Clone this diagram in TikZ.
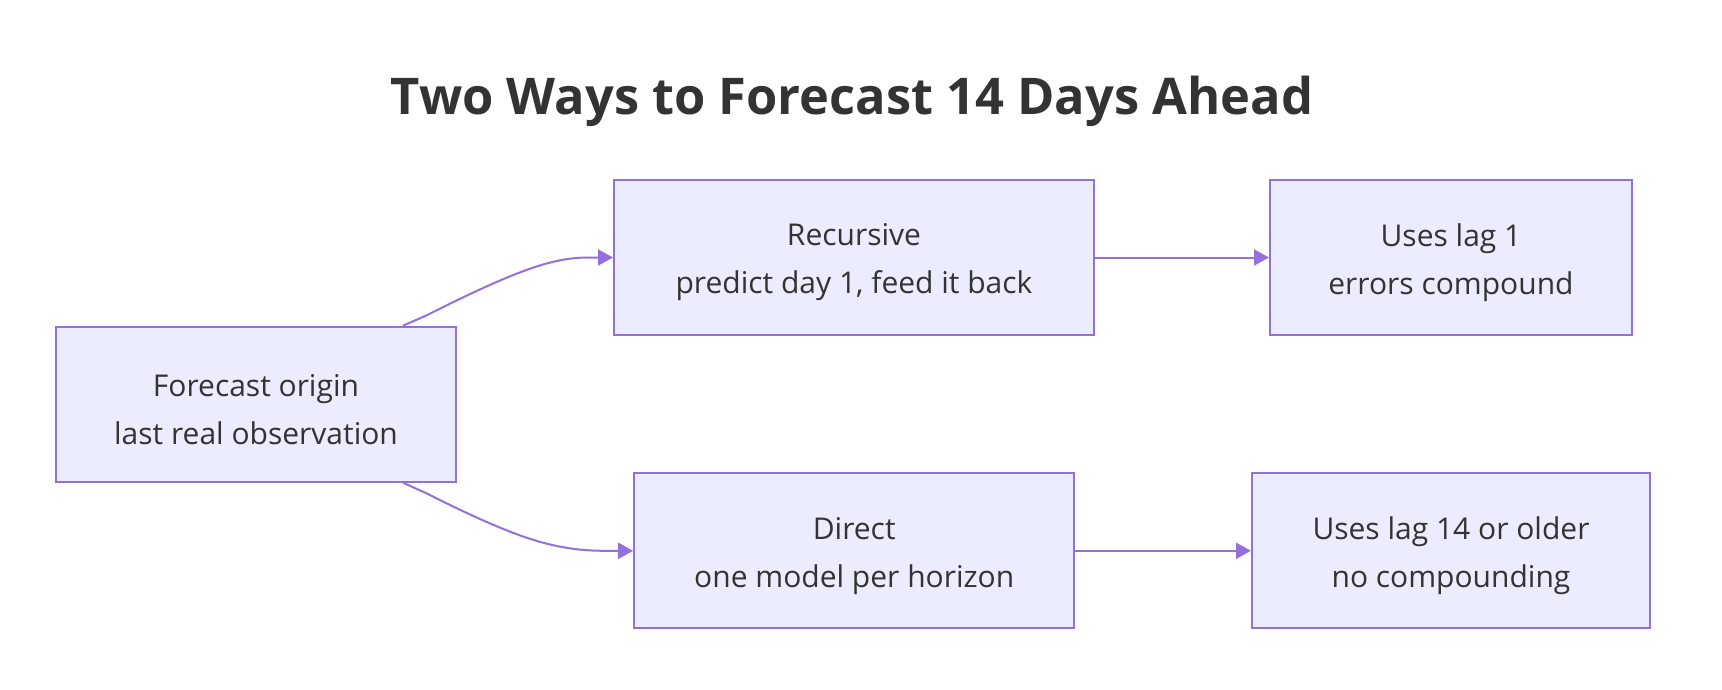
\documentclass[tikz,border=0pt]{standalone}
\usepackage{fontspec}
\setmainfont{Open Sans}
\usetikzlibrary{arrows.meta,calc}
\definecolor{nodefill}{HTML}{ECECFF}
\definecolor{nodeline}{HTML}{9370DB}
\definecolor{txt}{HTML}{333333}
\begin{document}
\begin{tikzpicture}[x=1pt,y=-1pt,
  box/.style={draw=nodeline,fill=nodefill,line width=2pt,minimum height=155pt,inner sep=0pt},
  boxtext/.style={align=center,text=txt,font=\fontsize{30}{48}\selectfont,inner sep=0pt,yshift=-5pt},
  edge/.style={draw=nodeline,line width=2pt,-{Triangle[length=15pt,width=16pt]}}]
\useasboundingbox (0,0) rectangle (1722,690);
\fill[white] (0,0) rectangle (1722,690);
\node[anchor=base,text=txt,font=\fontsize{50.6}{60}\selectfont\bfseries] (title) at (852,115) {Two Ways to Forecast 14 Days Ahead};
\node[box,minimum width=400pt,label={[boxtext]center:Forecast origin\\last real observation}] (fo) at (256,404.2) {};
\node[box,minimum width=480pt,label={[boxtext]center:Recursive\\predict day 1, feed it back}] (rec) at (854,257.5) {};
\node[box,minimum width=362pt,label={[boxtext]center:Uses lag 1\\errors compound}] (lag1) at (1451,257.5) {};
\node[box,minimum width=440pt,label={[boxtext]center:Direct\\one model per horizon}] (dir) at (854.2,550.8) {};
\node[box,minimum width=398pt,label={[boxtext]center:Uses lag 14 or older\\no compounding}] (lag14) at (1451,550.8) {};
\draw[edge] ([xshift=147pt]fo.north) -- (426.25,315.5)
  .. controls (449.2,304) and (495.1,281) .. (527.9,269.5)
  .. controls (560.7,257.5) and (580.3,257.5) .. (590.2,257.5) -- (rec.west);
\draw[edge] ([xshift=147pt]fo.south) -- (426.25,493.2)
  .. controls (449.2,504.7) and (495.1,527.7) .. (531.2,539.2)
  .. controls (567.3,550.8) and (593.7,550.8) .. (606.8,550.8) -- (dir.west);
\draw[edge] (rec.east) -- (lag1.west);
\draw[edge] (dir.east) -- (lag14.west);
\end{tikzpicture}
\end{document}
